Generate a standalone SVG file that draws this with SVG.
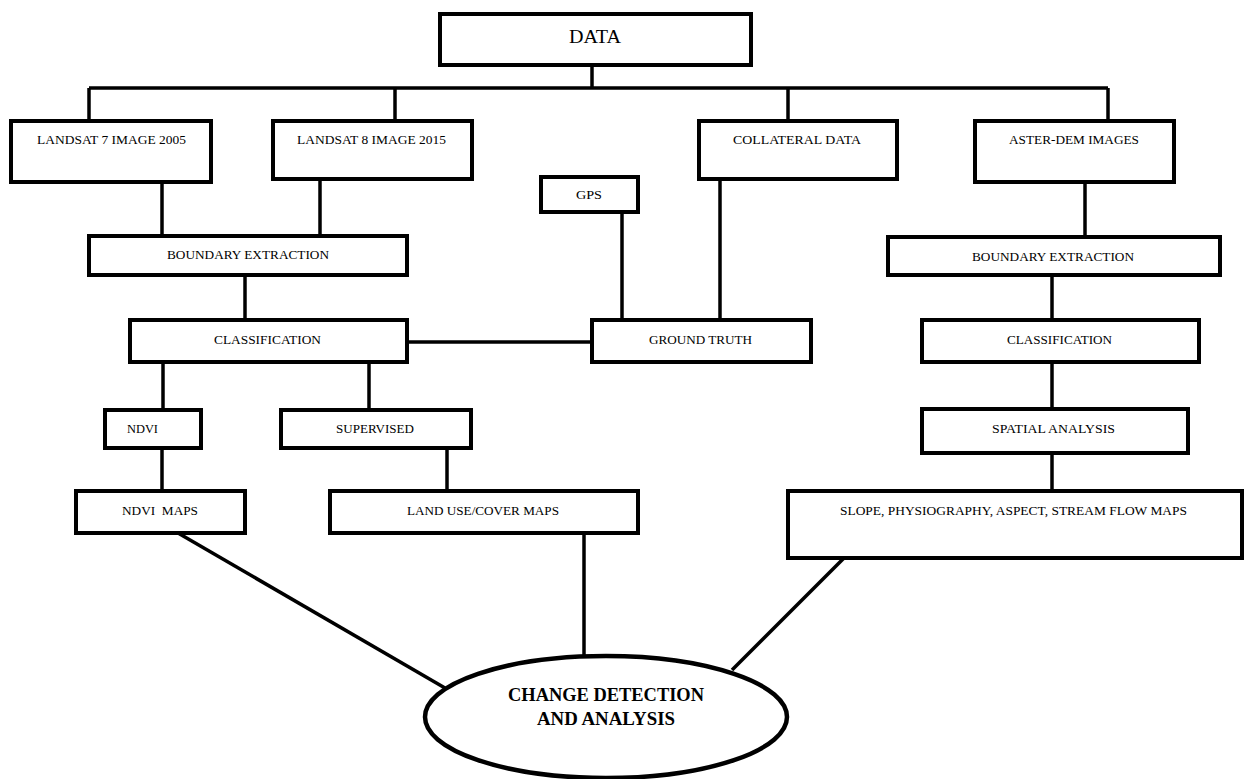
<svg xmlns="http://www.w3.org/2000/svg" width="1249" height="779" viewBox="0 0 1249 779">
<style>
.box{fill:#fff;stroke:#000;stroke-width:4}
.ln{stroke:#000;stroke-width:3.5;fill:none}
text{font-family:"Liberation Serif","Times New Roman",serif;fill:#000;font-size:13.5px}
.big{font-size:19px}
.bold{font-size:19px;font-weight:bold}
</style>
<rect width="1249" height="779" fill="#fff"/>
<g id="connectors">
<line class="ln" x1="592" y1="65" x2="592" y2="88"/>
<line class="ln" x1="89" y1="88" x2="1108" y2="88"/>
<line class="ln" x1="89" y1="88" x2="89" y2="121"/>
<line class="ln" x1="395" y1="88" x2="395" y2="121"/>
<line class="ln" x1="788" y1="88" x2="788" y2="121"/>
<line class="ln" x1="1108" y1="88" x2="1108" y2="121"/>
<line class="ln" x1="162" y1="182" x2="162" y2="236"/>
<line class="ln" x1="320" y1="179" x2="320" y2="236"/>
<line class="ln" x1="245" y1="275" x2="245" y2="320"/>
<line class="ln" x1="407" y1="342" x2="592" y2="342"/>
<line class="ln" x1="622" y1="212" x2="622" y2="320"/>
<line class="ln" x1="720" y1="179" x2="720" y2="320"/>
<line class="ln" x1="1085" y1="182" x2="1085" y2="237"/>
<line class="ln" x1="1052" y1="275" x2="1052" y2="320"/>
<line class="ln" x1="163" y1="362" x2="163" y2="410"/>
<line class="ln" x1="369" y1="362" x2="369" y2="410"/>
<line class="ln" x1="1052" y1="362" x2="1052" y2="409"/>
<line class="ln" x1="162" y1="448" x2="162" y2="491"/>
<line class="ln" x1="447" y1="448" x2="447" y2="491"/>
<line class="ln" x1="1052" y1="453" x2="1052" y2="491"/>
<line class="ln" x1="178" y1="533" x2="445" y2="688"/>
<line class="ln" x1="584" y1="533" x2="584" y2="656"/>
<line class="ln" x1="844" y1="558" x2="732" y2="670"/>
</g>
<g id="data"><rect class="box" x="440" y="14" width="311" height="51"/><text class="big" x="569" y="43" textLength="52" lengthAdjust="spacingAndGlyphs">DATA</text></g>
<g id="landsat7"><rect class="box" x="11" y="121" width="200" height="61"/><text x="37" y="144" textLength="149" lengthAdjust="spacingAndGlyphs">LANDSAT 7 IMAGE 2005</text></g>
<g id="landsat8"><rect class="box" x="273" y="121" width="199" height="58"/><text x="297" y="144" textLength="149" lengthAdjust="spacingAndGlyphs">LANDSAT 8 IMAGE 2015</text></g>
<g id="collateral"><rect class="box" x="699" y="121" width="198" height="58"/><text x="733" y="144" textLength="128" lengthAdjust="spacingAndGlyphs">COLLATERAL DATA</text></g>
<g id="aster"><rect class="box" x="975" y="121" width="199" height="61"/><text x="1009" y="144" textLength="130" lengthAdjust="spacingAndGlyphs">ASTER-DEM IMAGES</text></g>
<g id="gps"><rect class="box" x="541" y="177" width="97" height="35"/><text x="576" y="199" textLength="26" lengthAdjust="spacingAndGlyphs">GPS</text></g>
<g id="boundary-left"><rect class="box" x="89" y="236" width="318" height="39"/><text x="167" y="259" textLength="162" lengthAdjust="spacingAndGlyphs">BOUNDARY EXTRACTION</text></g>
<g id="boundary-right"><rect class="box" x="888" y="237" width="332" height="38"/><text x="972" y="261" textLength="162" lengthAdjust="spacingAndGlyphs">BOUNDARY EXTRACTION</text></g>
<g id="classification-left"><rect class="box" x="130" y="320" width="277" height="42"/><text x="214" y="344" textLength="107" lengthAdjust="spacingAndGlyphs">CLASSIFICATION</text></g>
<g id="ground-truth"><rect class="box" x="592" y="320" width="219" height="42"/><text x="649" y="344" textLength="103" lengthAdjust="spacingAndGlyphs">GROUND TRUTH</text></g>
<g id="classification-right"><rect class="box" x="922" y="320" width="277" height="42"/><text x="1007" y="344" textLength="105" lengthAdjust="spacingAndGlyphs">CLASSIFICATION</text></g>
<g id="ndvi"><rect class="box" x="105" y="410" width="96" height="38"/><text x="127" y="433" textLength="31" lengthAdjust="spacingAndGlyphs">NDVI</text></g>
<g id="supervised"><rect class="box" x="281" y="410" width="190" height="38"/><text x="336" y="433" textLength="78" lengthAdjust="spacingAndGlyphs">SUPERVISED</text></g>
<g id="spatial"><rect class="box" x="922" y="409" width="266" height="44"/><text x="992" y="433" textLength="123" lengthAdjust="spacingAndGlyphs">SPATIAL ANALYSIS</text></g>
<g id="ndvi-maps"><rect class="box" x="76" y="491" width="169" height="42"/><text x="122" y="515" textLength="76" lengthAdjust="spacingAndGlyphs" xml:space="preserve">NDVI  MAPS</text></g>
<g id="landuse-maps"><rect class="box" x="330" y="491" width="308" height="42"/><text x="407" y="515" textLength="152" lengthAdjust="spacingAndGlyphs">LAND USE/COVER MAPS</text></g>
<g id="slope-maps"><rect class="box" x="788" y="491" width="454" height="67"/><text x="840" y="515" textLength="347" lengthAdjust="spacingAndGlyphs">SLOPE, PHYSIOGRAPHY, ASPECT, STREAM FLOW MAPS</text></g>
<g id="change-detection"><ellipse cx="606" cy="717" rx="181" ry="61" fill="#fff" stroke="#000" stroke-width="4.5"/><text class="bold" x="508" y="701" textLength="196" lengthAdjust="spacingAndGlyphs">CHANGE DETECTION</text><text class="bold" x="537" y="725" textLength="138" lengthAdjust="spacingAndGlyphs">AND ANALYSIS</text></g>
</svg>
